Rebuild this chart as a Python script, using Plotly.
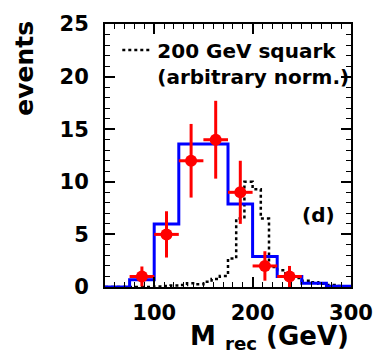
import plotly.graph_objects as go

# Blue histogram (expected background+signal), 25 GeV bins from 50 to 300
hist_edges = [50, 75, 100, 125, 150, 175, 200, 225, 250, 275, 300]
hist_counts = [0, 0.7, 6.0, 13.6, 13.6, 7.9, 2.9, 1.0, 0.35, 0.08]

# Dotted histogram: 200 GeV squark (arbitrary norm.), 30 bins from 50 to 300
sq_edges = [50 + i * 250 / 30 for i in range(31)]
sq_counts = [0, 0, 0, 0, 0, 0, 0.05, 0.1, 0.15, 0.2, 0.35, 0.25, 0.5, 0.75, 1.05,
             2.7, 6.5, 10.0, 9.3, 6.5, 1.9, 1.6, 1.2, 0.85, 0.6, 0.45, 0.3, 0.2, 0.1, 0.05]

# Data points
data_x = [87.5, 112.5, 137.5, 162.5, 187.5, 212.5, 237.5]
data_y = [1, 5, 12, 14, 9, 2, 1]
data_err = [0.95, 2.2, 3.5, 3.7, 3.0, 1.4, 1.0]
data_xerr = [12.5] * 7

FONT = "DejaVu Sans"

fig = go.Figure()

fig.add_trace(go.Scatter(
    x=sq_edges, y=sq_counts + [sq_counts[-1]],
    mode="lines", line=dict(shape="hv", color="black", width=2.5, dash="dot"),
    name="200 GeV squark<br>(arbitrary norm.)", showlegend=True,
))
fig.add_trace(go.Scatter(
    x=hist_edges, y=hist_counts + [hist_counts[-1]],
    mode="lines", line=dict(shape="hv", color="#0000ff", width=3),
    showlegend=False,
))
fig.add_trace(go.Scatter(
    x=data_x, y=data_y, mode="markers",
    marker=dict(color="#ff0000", size=12),
    error_y=dict(type="data", array=data_err, color="#ff0000", thickness=3, width=0),
    error_x=dict(type="data", array=data_xerr, color="#ff0000", thickness=3, width=0),
    showlegend=False,
))

axis_common = dict(
    showline=True, linecolor="black", linewidth=2, mirror="allticks",
    ticks="inside", tickcolor="black", tickwidth=1.5, ticklen=10,
    showgrid=False, zeroline=False,
    tickfont=dict(family=FONT, size=21, color="black", weight="bold"),
)

fig.update_xaxes(range=[50, 300], tick0=0, dtick=100,
                 minor=dict(dtick=10, ticklen=5, ticks="inside", tickcolor="black", tickwidth=1.2),
                 ticklabelstandoff=6, **axis_common)
fig.update_yaxes(range=[0, 25], tick0=0, dtick=5,
                 minor=dict(dtick=1, ticklen=5, ticks="inside", tickcolor="black", tickwidth=1.2),
                 ticklabelstandoff=10, **axis_common)

fig.update_layout(
    width=385, height=355,
    margin=dict(l=105, r=25, t=17, b=68),
    paper_bgcolor="white", plot_bgcolor="white",
    showlegend=True,
    legend=dict(x=0.05, y=0.975, xanchor="left", yanchor="top", valign="top",
                bgcolor="rgba(0,0,0,0)", borderwidth=0, tracegroupgap=0,
                font=dict(family=FONT, size=20, color="black", weight="bold")),
    annotations=[
        dict(text="events", xref="paper", yref="paper", x=-0.325, y=0.83,
             textangle=-90, showarrow=False, xanchor="center", yanchor="middle",
             font=dict(family=FONT, size=25, color="black", weight="bold")),
        dict(text="M <sub>rec</sub> (GeV)", xref="paper", yref="paper", x=1.0, y=-0.262,
             showarrow=False, xanchor="right", yanchor="bottom",
             font=dict(family=FONT, size=26, color="black", weight="bold")),
        dict(text="(d)", xref="paper", yref="paper", x=0.867, y=0.274,
             showarrow=False, xanchor="center", yanchor="middle",
             font=dict(family=FONT, size=20, color="black", weight="bold")),
    ],
)

fig.write_html("out.html")
